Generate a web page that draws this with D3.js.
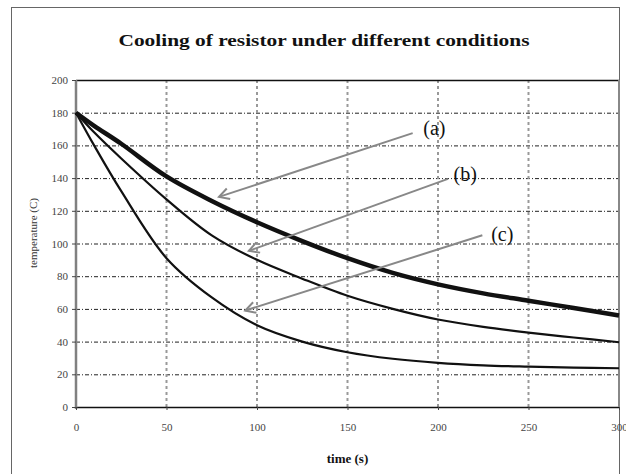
<!DOCTYPE html>
<html>
<head>
<meta charset="utf-8">
<script src="https://cdn.jsdelivr.net/npm/d3@7"></script>
<style>
  body { margin: 0; background: #fff; }
  svg { display: block; font-family: "Liberation Serif", "Times New Roman", serif; }
</style>
</head>
<body>
<svg width="626" height="474"></svg>
<script>
// time (s) sample points
var times = [0, 10, 25, 50, 75, 100, 125, 150, 175, 200, 225, 250, 275, 300];
// temperature (C) readings for each condition
var tempA = [180, 172, 161, 141, 126, 113, 101.5, 91, 82, 75, 69.5, 65, 60.5, 56];
var tempB = [180, 168, 152, 127, 105, 90, 78.5, 68, 60, 53.5, 49, 45.5, 42.5, 39.6];
var tempC = [180, 160, 132, 91, 67, 50, 40, 33.5, 29.5, 27, 25.5, 24.7, 24.1, 23.7];

var xTicks = [0, 50, 100, 150, 200, 250, 300];
var yTicks = [0, 20, 40, 60, 80, 100, 120, 140, 160, 180, 200];

// annotation labels: tip on the curve, tail near the label (data units)
var labels = ["(a)", "(b)", "(c)"];
var tipT = [79, 95.5, 93.5], tipV = [128.5, 95.5, 59];
var tailT = [186, 205.5, 224.5], tailV = [167.5, 139.5, 105];
var textT = [198, 215, 235.5], textV = [170.5, 142.5, 106];

var svg = d3.select("svg");
var margin = {top: 80, right: 7, bottom: 67, left: 76};
var W = +svg.attr("width"), H = +svg.attr("height");

var x = d3.scaleLinear().domain([0, 300]).range([margin.left, W - margin.right]);
var y = d3.scaleLinear().domain([0, 200]).range([H - margin.bottom, margin.top]);

// outer chart border (runs off the bottom of the picture)
svg.append("rect")
  .attr("x", 11.5).attr("y", 7.5)
  .attr("width", 608).attr("height", 480)
  .attr("fill", "none").attr("stroke", "#666").attr("stroke-width", 1);

svg.append("text")
  .attr("x", 324).attr("y", 46)
  .attr("text-anchor", "middle")
  .attr("font-size", 17).attr("font-weight", "bold")
  .attr("textLength", 411).attr("lengthAdjust", "spacingAndGlyphs")
  .attr("fill", "#111")
  .text("Cooling of resistor under different conditions");

// horizontal grid, black dash-dot
svg.append("g").selectAll("line")
  .data(yTicks.filter(function(d) { return d > 0 && d < 200; }))
  .join("line")
    .attr("x1", x(0)).attr("x2", x(300))
    .attr("y1", function(d) { return y(d) + 0.5; })
    .attr("y2", function(d) { return y(d) + 0.5; })
    .attr("stroke", "#222").attr("stroke-width", 1)
    .attr("stroke-dasharray", "4,2,1,2");

// vertical grid, grey dashed
svg.append("g").selectAll("line")
  .data(xTicks.filter(function(d) { return d > 0 && d < 300; }))
  .join("line")
    .attr("x1", function(d) { return x(d); })
    .attr("x2", function(d) { return x(d); })
    .attr("y1", y(200)).attr("y2", y(0))
    .attr("stroke", "#999").attr("stroke-width", 2)
    .attr("stroke-dasharray", "3,3");

// frame: black top and bottom, grey sides
svg.append("line").attr("x1", x(0)).attr("x2", x(300)).attr("y1", y(200) + 0.5).attr("y2", y(200) + 0.5)
  .attr("stroke", "#111").attr("stroke-width", 1.5);
svg.append("line").attr("x1", x(0)).attr("x2", x(300)).attr("y1", y(0) + 0.5).attr("y2", y(0) + 0.5)
  .attr("stroke", "#111").attr("stroke-width", 1.5);
svg.append("line").attr("x1", x(300)).attr("x2", x(300)).attr("y1", y(200)).attr("y2", y(0))
  .attr("stroke", "#888").attr("stroke-width", 2);
svg.append("line").attr("x1", x(0)).attr("x2", x(0)).attr("y1", y(200)).attr("y2", y(0) + 2)
  .attr("stroke", "#808080").attr("stroke-width", 2.5);

// axes (labels and small ticks)
var yAxis = svg.append("g")
  .attr("transform", "translate(" + x(0) + ",0)")
  .call(d3.axisLeft(y).tickValues(yTicks).tickSize(4).tickPadding(4));
var xAxis = svg.append("g")
  .attr("transform", "translate(0," + y(0) + ")")
  .call(d3.axisBottom(x).tickValues(xTicks).tickSize(3).tickPadding(13));
[yAxis, xAxis].forEach(function(a) {
  a.attr("font-family", null);
  a.select(".domain").remove();
  a.selectAll(".tick line").attr("stroke", "#444");
  a.selectAll("text")
    .style("font-family", "'Liberation Serif', serif")
    .style("font-size", "11px").attr("fill", "#444");
});

svg.append("text")
  .attr("x", (x(0) + x(300)) / 2).attr("y", 463)
  .attr("text-anchor", "middle")
  .attr("font-size", 13).attr("font-weight", "bold").attr("fill", "#111")
  .text("time (s)");

svg.append("text")
  .attr("transform", "translate(37,233) rotate(-90)")
  .attr("text-anchor", "middle")
  .attr("font-size", 11).attr("fill", "#333")
  .text("temperature (C)");

// cooling curves
var line = d3.line()
  .x(function(d) { return x(d[0]); })
  .y(function(d) { return y(d[1]); })
  .curve(d3.curveCatmullRom.alpha(0.5));

var series = [
  {vals: tempA, w: 4.5},
  {vals: tempB, w: 2.2},
  {vals: tempC, w: 2.2}
];
svg.append("g").selectAll("path")
  .data(series)
  .join("path")
    .attr("d", function(s) { return line(times.map(function(t, i) { return [t, s.vals[i]]; })); })
    .attr("fill", "none")
    .attr("stroke", "#111")
    .attr("stroke-width", function(s) { return s.w; })
    .attr("stroke-linejoin", "round");

// arrow annotations
svg.append("defs").append("marker")
  .attr("id", "head")
  .attr("markerUnits", "userSpaceOnUse")
  .attr("viewBox", "-12 -7 14 14")
  .attr("markerWidth", 14).attr("markerHeight", 14)
  .attr("refX", 0).attr("refY", 0)
  .attr("orient", "auto")
  .append("path")
    .attr("d", "M-10,-5.5L0,0L-10,5.5")
    .attr("fill", "none").attr("stroke", "#888").attr("stroke-width", 2);

var ann = svg.append("g");
labels.forEach(function(lab, i) {
  ann.append("line")
    .attr("x1", x(tailT[i])).attr("y1", y(tailV[i]))
    .attr("x2", x(tipT[i])).attr("y2", y(tipV[i]))
    .attr("stroke", "#888").attr("stroke-width", 2)
    .attr("marker-end", "url(#head)");
  ann.append("text")
    .attr("x", x(textT[i])).attr("y", y(textV[i]))
    .attr("dy", "0.35em")
    .attr("text-anchor", "middle")
    .attr("font-size", 20).attr("fill", "#111")
    .text(lab);
});
</script>
</body>
</html>
